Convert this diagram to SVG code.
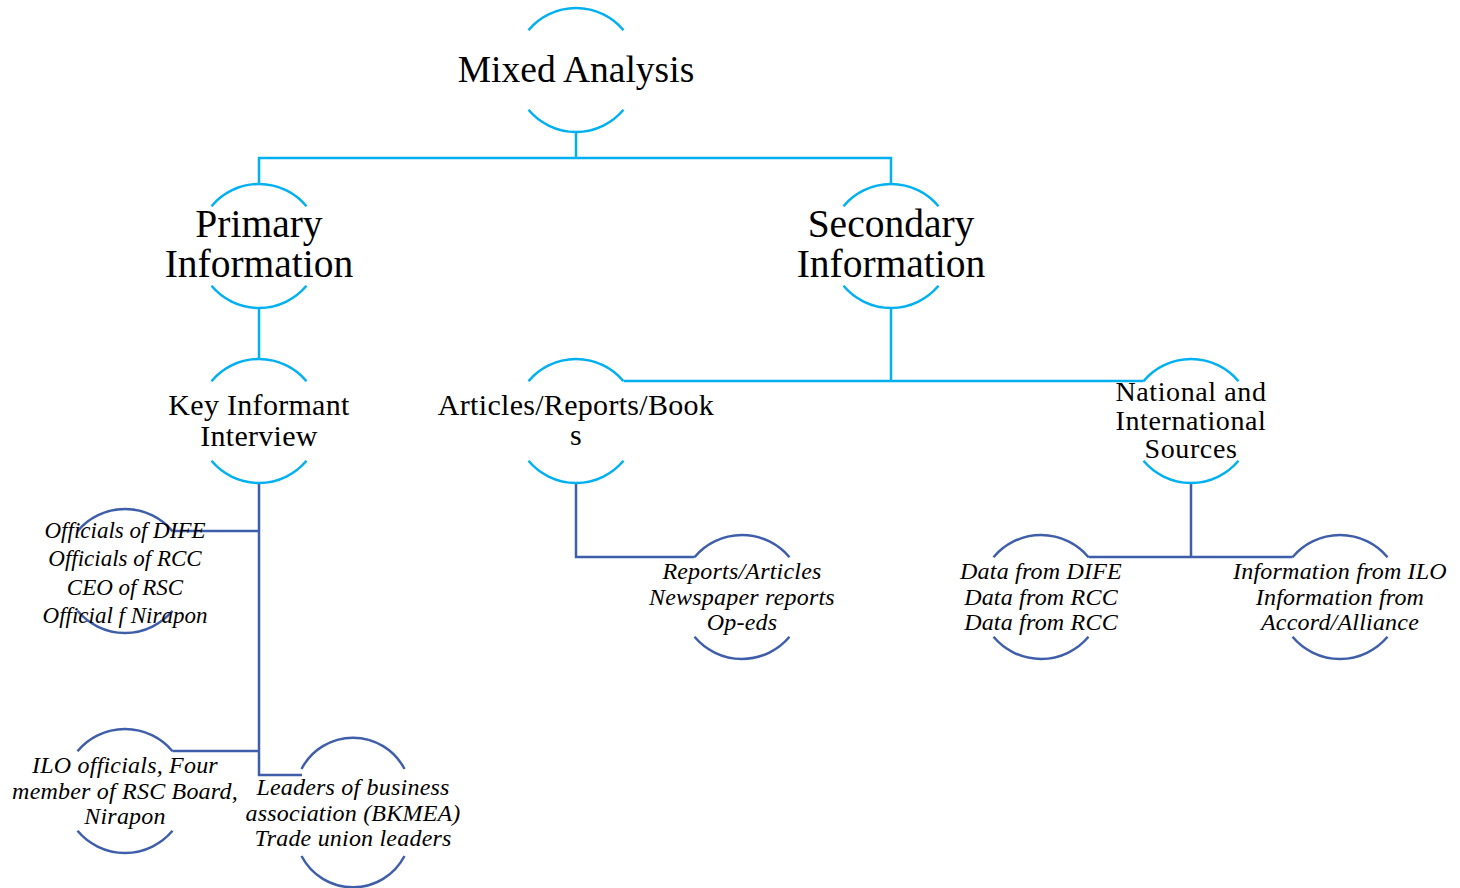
<svg xmlns="http://www.w3.org/2000/svg" width="1460" height="888" viewBox="0 0 1460 888">
  <style>
    .arc-l { fill: none; stroke: #00B0F0; stroke-width: 2.5; }
    .arc-d { fill: none; stroke: #3F5EAA; stroke-width: 2.5; }
    .ln-l { fill: none; stroke: #00B0F0; stroke-width: 2.5; }
    .ln-d { fill: none; stroke: #3F5EAA; stroke-width: 2.5; }
    text { font-family: "Liberation Serif", "Times New Roman", serif; fill: #000; text-anchor: middle; }
    .t1 { font-size: 37.5px; }
    .t2 { font-size: 39.5px; }
    .t3 { font-size: 30px; letter-spacing: 0.3px; }
    .t3s { font-size: 28px; letter-spacing: 0.6px; }
    .t4 { font-size: 24px; font-style: italic; letter-spacing: 0.2px; }
    .t4s { font-size: 23px; font-style: italic; }
  </style>
  <rect width="1460" height="888" fill="#fff"/>

  <!-- connectors -->
  <g id="connectors">
    <path class="ln-l" d="M576 132 V158 M259 184 V158 H891 V184"/>
    <path class="ln-l" d="M259 308 V359"/>
    <path class="ln-l" d="M891 308 V381 M624 381 H1143.5"/>
    <path class="ln-d" d="M259 483 V775 H302"/>
    <path class="ln-d" d="M172.5 531 H259"/>
    <path class="ln-d" d="M172.5 751 H259"/>
    <path class="ln-d" d="M576 483 V557 H694.5"/>
    <path class="ln-d" d="M1191 483 V557 M1088.5 557 H1292.5"/>
  </g>

  <!-- top level -->
  <g id="mixed-analysis">
    <path class="arc-l" d="M528.5 30.2 A62 62 0 0 1 623.5 30.2 M528.5 109.8 A62 62 0 0 0 623.5 109.8"/>
    <text class="t1" x="576" y="82">Mixed Analysis</text>
  </g>

  <g id="primary-information">
    <path class="arc-l" d="M211.5 206.2 A62 62 0 0 1 306.5 206.2 M211.5 285.8 A62 62 0 0 0 306.5 285.8"/>
    <text class="t2" x="259" y="237">Primary</text>
    <text class="t2" x="259" y="277">Information</text>
  </g>

  <g id="secondary-information">
    <path class="arc-l" d="M843.5 206.2 A62 62 0 0 1 938.5 206.2 M843.5 285.8 A62 62 0 0 0 938.5 285.8"/>
    <text class="t2" x="891" y="237">Secondary</text>
    <text class="t2" x="891" y="277">Information</text>
  </g>

  <!-- second level -->
  <g id="key-informant-interview">
    <path class="arc-l" d="M211.5 381.2 A62 62 0 0 1 306.5 381.2 M211.5 460.8 A62 62 0 0 0 306.5 460.8"/>
    <text class="t3" x="259" y="415">Key Informant</text>
    <text class="t3" x="259" y="446">Interview</text>
  </g>

  <g id="articles-reports-books">
    <path class="arc-l" d="M528.5 381.2 A62 62 0 0 1 623.5 381.2 M528.5 460.8 A62 62 0 0 0 623.5 460.8"/>
    <text class="t3" x="576" y="415">Articles/Reports/Book</text>
    <text class="t3" x="576" y="445">s</text>
  </g>

  <g id="national-international-sources">
    <path class="arc-l" d="M1143.5 381.2 A62 62 0 0 1 1238.5 381.2 M1143.5 460.8 A62 62 0 0 0 1238.5 460.8"/>
    <text class="t3s" x="1191" y="401">National and</text>
    <text class="t3s" x="1191" y="430">International</text>
    <text class="t3s" x="1191" y="458">Sources</text>
  </g>

  <!-- third level -->
  <g id="officials">
    <path class="arc-d" d="M77.5 531.2 A62 62 0 0 1 172.5 531.2 M77.5 610.8 A62 62 0 0 0 172.5 610.8"/>
    <text class="t4s" x="125" y="538">Officials of DIFE</text>
    <text class="t4s" x="125" y="566">Officials of RCC</text>
    <text class="t4s" x="125" y="595">CEO of RSC</text>
    <text class="t4s" x="125" y="623">Official f Nirapon</text>
  </g>

  <g id="ilo-officials">
    <path class="arc-d" d="M77.5 751.2 A62 62 0 0 1 172.5 751.2 M77.5 830.8 A62 62 0 0 0 172.5 830.8"/>
    <text class="t4" x="125" y="773">ILO officials, Four</text>
    <text class="t4" x="125" y="799">member of RSC Board,</text>
    <text class="t4" x="125" y="824">Nirapon</text>
  </g>

  <g id="business-leaders">
    <path class="arc-d" d="M301.5 769 A58 58 0 0 1 404.5 769 M301.5 856 A58 58 0 0 0 404.5 856"/>
    <text class="t4" x="353" y="795">Leaders of business</text>
    <text class="t4" x="353" y="821">association (BKMEA)</text>
    <text class="t4" x="353" y="846">Trade union leaders</text>
  </g>

  <g id="reports-articles">
    <path class="arc-d" d="M694.5 557.2 A62 62 0 0 1 789.5 557.2 M694.5 636.8 A62 62 0 0 0 789.5 636.8"/>
    <text class="t4" x="742" y="579">Reports/Articles</text>
    <text class="t4" x="742" y="605">Newspaper reports</text>
    <text class="t4" x="742" y="630">Op-eds</text>
  </g>

  <g id="data-sources">
    <path class="arc-d" d="M993.5 557.2 A62 62 0 0 1 1088.5 557.2 M993.5 636.8 A62 62 0 0 0 1088.5 636.8"/>
    <text class="t4" x="1041" y="579">Data from DIFE</text>
    <text class="t4" x="1041" y="605">Data from RCC</text>
    <text class="t4" x="1041" y="630">Data from RCC</text>
  </g>

  <g id="ilo-accord-information">
    <path class="arc-d" d="M1292.5 557.2 A62 62 0 0 1 1387.5 557.2 M1292.5 636.8 A62 62 0 0 0 1387.5 636.8"/>
    <text class="t4" x="1340" y="579">Information from ILO</text>
    <text class="t4" x="1340" y="605">Information from</text>
    <text class="t4" x="1340" y="630">Accord/Alliance</text>
  </g>
</svg>
